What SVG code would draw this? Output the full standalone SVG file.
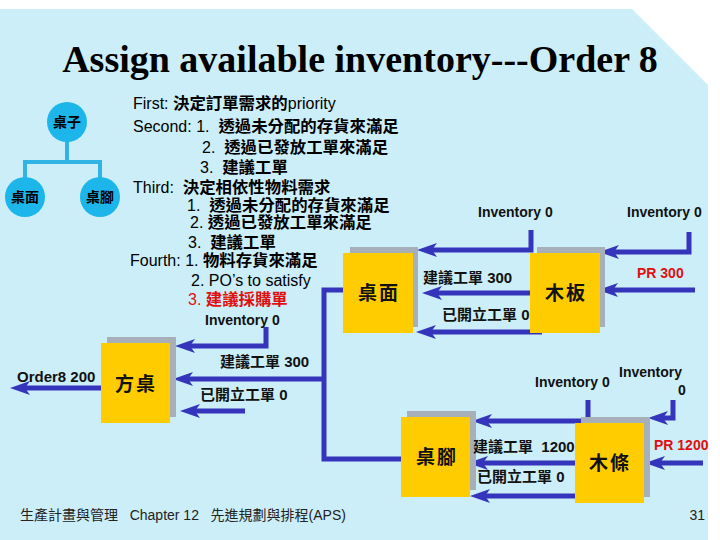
<svg xmlns="http://www.w3.org/2000/svg" width="720" height="540" viewBox="0 0 720 540">
<defs>
<style>
text{white-space:pre}
.bg{fill:#CCEEF8}
.tl{fill:none;stroke:#2FB4E4;stroke-width:4}
.cir{fill:#1CB6EA}
.ct{font-family:"Noto Sans CJK TC",sans-serif;font-size:14px;font-weight:bold;fill:#000;text-anchor:middle}
.sh{fill:#A7B0B8}
.bx{fill:#FFCC00}
.bt{font-family:"Noto Sans CJK TC",serif;font-size:19px;font-weight:bold;fill:#111;text-anchor:middle;letter-spacing:2px}
.con{fill:none;stroke:#3535BB;stroke-width:5;stroke-linejoin:miter}
.arr{marker-end:url(#ah)}
.body{font-family:"Liberation Sans","Noto Sans CJK TC",sans-serif;font-size:16px;fill:#000}
.cj{font-family:"Noto Sans CJK TC",sans-serif;font-weight:bold;font-size:16.4px}
.lb{font-family:"Liberation Sans","Noto Sans CJK TC",sans-serif;font-size:14px;font-weight:bold;fill:#111}
.lc{font-family:"Liberation Sans","Noto Sans CJK TC",sans-serif;font-size:15px;font-weight:bold;fill:#111}
.red{fill:#E01010}
.ft{font-family:"Liberation Sans","Noto Sans CJK TC",sans-serif;font-size:14px;fill:#222}
.title{font-family:"Liberation Serif",serif;font-size:38px;font-weight:bold;fill:#000;text-anchor:middle}
</style>
<marker id="ah" markerUnits="userSpaceOnUse" markerWidth="20" markerHeight="14" refX="5" refY="7" orient="auto" viewBox="0 0 20 14">
<path d="M0,0 L20,7 L0,14 L5,7 Z" fill="#3535BB"/>
</marker>
</defs>
<rect x="0" y="0" width="720" height="540" fill="#FFFFFF"/>
<rect class="bg" x="0" y="9" width="708" height="531"/>
<polygon points="632,9 708,9 708,85" fill="#FFFFFF"/>

<text class="title" x="360" y="72">Assign available inventory---Order 8</text>

<g id="tree-lines">
<path class="tl" d="M67,140 V162 M25,162 H100 M25,160 V180 M100,160 V180"/>
</g>
<g id="node-zhuozi"><circle class="cir" cx="67" cy="122" r="20"/><text class="ct" x="67" y="127">桌子</text></g>
<g id="node-zhuomian-tree"><circle class="cir" cx="25" cy="197" r="20"/><text class="ct" x="25" y="202">桌面</text></g>
<g id="node-zhuojiao-tree"><circle class="cir" cx="100" cy="197" r="20"/><text class="ct" x="100" y="202">桌腳</text></g>

<g id="steps">
<text class="body" x="133" y="109">First: <tspan class="cj">決定訂單需求的</tspan>priority</text>
<text class="body" x="133" y="132">Second: 1.  <tspan class="cj">透過未分配的存貨來滿足</tspan></text>
<text class="body" x="202" y="153">2.  <tspan class="cj">透過已發放工單來滿足</tspan></text>
<text class="body" x="200" y="173">3.  <tspan class="cj">建議工單</tspan></text>
<text class="body" x="133" y="193">Third:  <tspan class="cj">決定相依性物料需求</tspan></text>
<text class="body" x="187" y="211">1.  <tspan class="cj">透過未分配的存貨來滿足</tspan></text>
<text class="body" x="190" y="228">2. <tspan class="cj">透過已發放工單來滿足</tspan></text>
<text class="body" x="188" y="248">3.  <tspan class="cj">建議工單</tspan></text>
<text class="body" x="130" y="266">Fourth: 1. <tspan class="cj">物料存貨來滿足</tspan></text>
<text class="body" x="191" y="286">2. PO’s to satisfy</text>
<text class="body red" x="188" y="305">3. <tspan class="cj">建議採購單</tspan></text>
</g>

<g id="connectors">
<path class="con arr" d="M531,230 V250 H432"/>
<path class="con arr" d="M689,232 V252 H614"/>
<path class="con arr" d="M695,290 H613"/>
<path class="con arr" d="M530,293 H437"/>
<path class="con arr" d="M542,332 H431"/>
<path class="con" d="M343,290 H324 V459 H401"/>
<path class="con arr" d="M324,379 H188"/>
<path class="con arr" d="M266,327 V346 H190"/>
<path class="con arr" d="M245,411 H195"/>
<path class="con arr" d="M101,388 H25"/>
<path class="con arr" d="M588,400 V421 H487"/>
<path class="con arr" d="M673,400 V418 H663"/>
<path class="con arr" d="M703,463 H660"/>
<path class="con arr" d="M575,463 H483"/>
<path class="con arr" d="M575,496 H485"/>
</g>

<g id="node-zhuomian"><rect class="sh" x="350" y="247" width="68" height="80"/><rect class="bx" x="343" y="253" width="70" height="80"/><text class="bt" x="379" y="300">桌面</text></g>
<g id="node-muban"><rect class="sh" x="537" y="247" width="68" height="80"/><rect class="bx" x="530" y="253" width="70" height="80"/><text class="bt" x="566" y="300">木板</text></g>
<g id="node-fangzhuo"><rect class="sh" x="107" y="337" width="69" height="80"/><rect class="bx" x="101" y="343" width="69" height="80"/><text class="bt" x="136" y="391">方桌</text></g>
<g id="node-zhuojiao"><rect class="sh" x="407" y="411" width="69" height="79"/><rect class="bx" x="401" y="417" width="69" height="80"/><text class="bt" x="437" y="464">桌腳</text></g>
<g id="node-mutiao"><rect class="sh" x="581" y="417" width="69" height="80"/><rect class="bx" x="575" y="423" width="69" height="80"/><text class="bt" x="610" y="470">木條</text></g>

<g id="labels">
<text class="lb" x="478" y="217">Inventory 0</text>
<text class="lb" x="627" y="217">Inventory 0</text>
<text class="lb red" x="637" y="278">PR 300</text>
<text class="lc" x="423" y="283">建議工單 300</text>
<text class="lc" x="442" y="320">已開立工單 0</text>
<text class="lb" x="205" y="325">Inventory 0</text>
<text class="lc" x="220" y="367">建議工單 300</text>
<text class="lc" x="200" y="400">已開立工單 0</text>
<text class="lc" x="17" y="382" font-weight="normal">Order8 200</text>
<text class="lb" x="535" y="387">Inventory 0</text>
<text class="lb" x="619" y="377">Inventory</text>
<text class="lb" x="678" y="395">0</text>
<text class="lb red" x="654" y="450">PR 1200</text>
<text class="lc" x="473" y="452">建議工單  1200</text>
<text class="lc" x="477" y="482">已開立工單 0</text>
</g>

<g id="footer">
<text class="ft" x="20" y="520">生產計畫與管理   Chapter 12   先進規劃與排程(APS)</text>
<text class="ft" x="705" y="520" text-anchor="end">31</text>
</g>
</svg>
